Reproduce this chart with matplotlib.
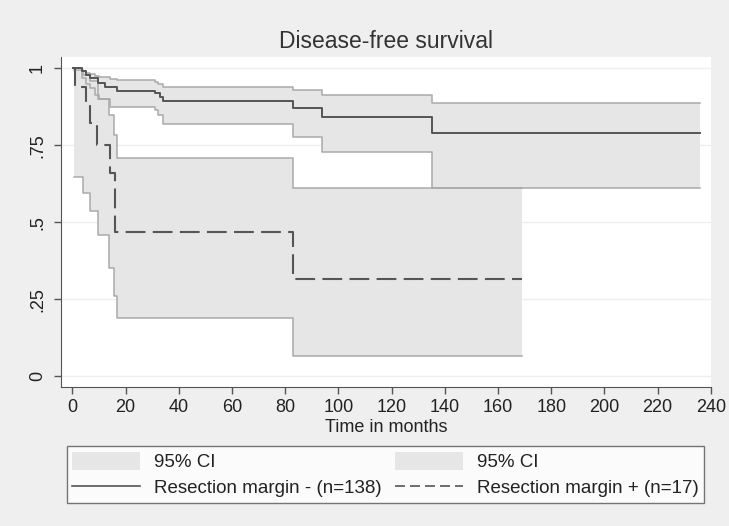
import numpy as np
import matplotlib
matplotlib.use('Agg')
import matplotlib.pyplot as plt
import matplotlib as mpl
from matplotlib.patches import Patch
from matplotlib.lines import Line2D

mpl.rcParams['font.family'] = ['Liberation Sans', 'DejaVu Sans']

# resection margin - (n=138): KM estimate and 95% CI
neg_t = [0.3, 3.5, 5, 6.5, 9.6, 12.2, 16.6, 31, 33, 34, 83, 94, 135, 236]
neg_s = [1, 0.992, 0.978, 0.968, 0.953, 0.938, 0.927, 0.919, 0.908, 0.895, 0.872, 0.843, 0.789, 0.789]
neg_ci_t = [0.3, 3.5, 5, 6.5, 8.5, 10, 14, 16.6, 31, 32, 34, 83, 94, 135, 236]
neg_hi = [1, 0.993, 0.985, 0.981, 0.975, 0.971, 0.966, 0.962, 0.955, 0.949, 0.938, 0.930, 0.913, 0.889, 0.889]
neg_lo = [1, 0.97, 0.95, 0.935, 0.915, 0.900, 0.875, 0.875, 0.865, 0.848, 0.821, 0.776, 0.727, 0.610, 0.610]

# resection margin + (n=17)
pos_t = [0.3, 1, 5, 6.5, 9.3, 14, 16, 83, 169]
pos_s = [1, 0.941, 0.882, 0.824, 0.75, 0.659, 0.47, 0.315, 0.315]
pos_ci_t = [0.6, 4, 6.6, 9.7, 13.8, 15.7, 16.9, 83, 169]
pos_hi = [0.995, 0.98, 0.96, 0.90, 0.848, 0.783, 0.71, 0.61, 0.61]
pos_lo = [0.648, 0.596, 0.538, 0.459, 0.352, 0.262, 0.188, 0.067, 0.067]

xticks = np.arange(0, 241, 20)
yticks = [0, 0.25, 0.5, 0.75, 1]
ylabels = ['0', '.25', '.5', '.75', '1']

fill_c = '#e6e6e6'
edge_c = '#a9a9a9'
line_c = '#555555'
bg = '#efefef'

fig = plt.figure(figsize=(7.29, 5.26), dpi=100, facecolor=bg)
ax = fig.add_axes([0.0841, 0.2637, 0.975 - 0.0841, 0.891 - 0.2637])
ax.set_facecolor('white')

for t, lo, hi in [(neg_ci_t, neg_lo, neg_hi), (pos_ci_t, pos_lo, pos_hi)]:
    ax.fill_between(t, lo, hi, step='post', color=fill_c, lw=0, zorder=2)
    ax.step(t, lo, where='post', color=edge_c, lw=1.1, zorder=3)
    ax.step(t, hi, where='post', color=edge_c, lw=1.1, zorder=3)

ax.step(neg_t, neg_s, where='post', color=line_c, lw=1.4, zorder=4)
ax.step(pos_t, pos_s, where='post', color=line_c, lw=1.5, zorder=4,
        linestyle=(0, (9.5, 3.5)))

ax.set_xlim(-4.2, 240)
ax.set_ylim(-0.036, 1.036)
ax.set_xticks(xticks)
ax.set_yticks(yticks)
ax.set_yticklabels(ylabels, rotation=90, va='center')
ax.tick_params(axis='both', labelsize=13, color='#555555', labelcolor='#222222',
               length=5, width=1)
ax.tick_params(axis='y', pad=6)
ax.yaxis.grid(True, color='#eeeeee', lw=1)
ax.set_axisbelow(True)
for s in ['top', 'right']:
    ax.spines[s].set_visible(False)
for s in ['left', 'bottom']:
    ax.spines[s].set_color('#555555')

ax.set_xlabel('Time in months', fontsize=13, color='#222222', labelpad=2)
fig.text(0.53, 0.922, 'Disease-free survival', ha='center', va='center',
         fontsize=16.5, color='#333333')

handles = [Patch(facecolor=fill_c, edgecolor='none'),
           Line2D([], [], color=line_c, lw=1.2),
           Patch(facecolor=fill_c, edgecolor='none'),
           Line2D([], [], color=line_c, lw=1.2, linestyle=(0, (6, 3)))]
labels = ['95% CI', 'Resection margin - (n=138)', '95% CI', 'Resection margin + (n=17)']
leg = fig.legend(handles, labels, ncol=2, loc='center', mode='expand',
                 bbox_to_anchor=(0.0915, 0.0424, 0.8745, 0.1105),
                 fontsize=13.5, frameon=True, fancybox=False, handlelength=3.6,
                 handleheight=1.1, borderaxespad=0, labelspacing=0.35,
                 handletextpad=0.75, borderpad=0.3)
leg.get_frame().set_edgecolor('#555555')
leg.get_frame().set_linewidth(1)
for t in leg.get_texts():
    t.set_color('#222222')

fig.savefig('out.png', dpi=100, facecolor=bg)
